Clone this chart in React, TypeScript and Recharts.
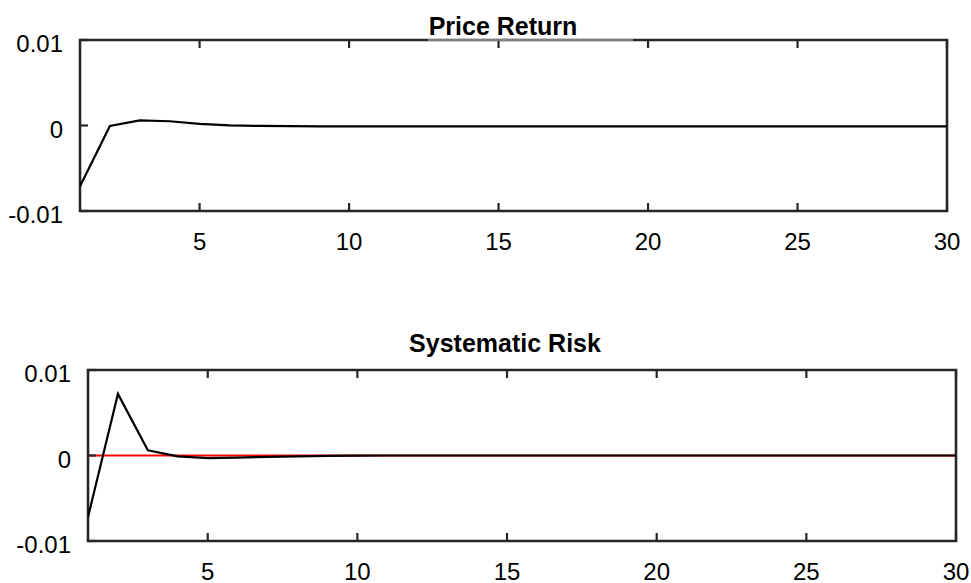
import { LineChart, Line, XAxis, YAxis, ReferenceLine, ReferenceArea } from 'recharts';

// impulse responses, periods 1..30
const periods = [1, 2, 3, 4, 5, 6, 7, 8, 9, 10, 11, 12, 13, 14, 15, 16, 17, 18, 19, 20, 21, 22, 23, 24, 25, 26, 27, 28, 29, 30];

const priceReturn = [
  -0.0071, -0.00005, 0.0006, 0.0005, 0.0002, 0.00002, -0.00005, -0.00008, -0.0001, -0.0001,
  -0.0001, -0.0001, -0.0001, -0.0001, -0.0001, -0.0001, -0.0001, -0.0001, -0.0001, -0.0001,
  -0.0001, -0.0001, -0.0001, -0.0001, -0.0001, -0.0001, -0.0001, -0.0001, -0.0001, -0.0001,
];

const systematicRisk = [
  -0.0072, 0.0072, 0.0006, -0.0001, -0.0003, -0.00025, -0.00015, -0.0001, -0.00005, -0.00002,
  0, 0, 0, 0, 0, 0, 0, 0, 0, 0,
  0, 0, 0, 0, 0, 0, 0, 0, 0, 0,
];

const xTicks = [5, 10, 15, 20, 25, 30];
const yTicks = [-0.01, 0, 0.01];

const priceData = periods.map((p, i) => ({ period: p, value: priceReturn[i] }));
const riskData = periods.map((p, i) => ({ period: p, value: systematicRisk[i] }));

const FONT = '"Liberation Sans", Arial, sans-serif';
const AXIS = '#262626';
const TICK = 8;

const fmtY = (v: number) => (v === 0 ? '0' : v.toFixed(2));

// MATLAB-style inward ticks: draw the tick line and the label ourselves
const BottomTick = (props: any) => {
  const { x, y, payload } = props;
  return (
    <g>
      <line x1={x} x2={x} y1={y} y2={y - TICK} stroke={AXIS} strokeWidth={2.2} />
      <text x={x} y={y + 39} textAnchor="middle" fontSize={24} fontFamily={FONT} fill="#000">{payload.value}</text>
    </g>
  );
};

const TopTick = (props: any) => {
  const { x, y } = props;
  return <line x1={x} x2={x} y1={y} y2={y + TICK} stroke={AXIS} strokeWidth={2.2} />;
};

const LeftTick = (props: any) => {
  const { x, y, payload } = props;
  return (
    <g>
      <line x1={x} x2={x + TICK} y1={y} y2={y} stroke={AXIS} strokeWidth={2.2} />
      <text x={x - 17} y={y + 12} textAnchor="end" fontSize={24} fontFamily={FONT} fill="#000">{fmtY(payload.value)}</text>
    </g>
  );
};

const RightTick = (props: any) => {
  const { x, y } = props;
  return <line x1={x} x2={x - TICK} y1={y} y2={y} stroke={AXIS} strokeWidth={2.2} />;
};

function Panel({ data, leftWidth, rightWidth, zeroLine }: { data: any[]; leftWidth: number; rightWidth: number; zeroLine?: boolean }) {
  return (
    <LineChart width={971} height={270} data={data} margin={{ top: 10, right: 0, left: 0, bottom: 0 }} style={{ overflow: 'visible' }}>
      <XAxis
        dataKey="period"
        type="number"
        domain={[1, 30]}
        ticks={xTicks}
        allowDataOverflow
        height={59}
        axisLine={false}
        tickLine={false}
        tickSize={0}
        tickMargin={0}
        tick={<BottomTick />}
      />
      <XAxis
        xAxisId="top"
        orientation="top"
        dataKey="period"
        type="number"
        domain={[1, 30]}
        ticks={xTicks}
        height={30}
        axisLine={false}
        tickLine={false}
        tickSize={0}
        tickMargin={0}
        tick={<TopTick />}
      />
      <YAxis
        type="number"
        domain={[-0.01, 0.01]}
        ticks={yTicks}
        width={leftWidth}
        axisLine={false}
        tickLine={false}
        tickSize={0}
        tickMargin={0}
        tick={<LeftTick />}
      />
      <YAxis
        yAxisId="right"
        orientation="right"
        type="number"
        domain={[-0.01, 0.01]}
        ticks={yTicks}
        width={rightWidth}
        axisLine={false}
        tickLine={false}
        tickSize={0}
        tickMargin={0}
        tick={<RightTick />}
      />
      <ReferenceArea x1={1} x2={30} y1={-0.01} y2={0.01} fill="none" fillOpacity={0} stroke={AXIS} strokeWidth={2.6} />
      {zeroLine && <ReferenceLine y={0} stroke="#ff0000" strokeWidth={2} />}
      <Line type="linear" dataKey="value" stroke="#000" strokeWidth={2.2} dot={false} isAnimationActive={false} />
    </LineChart>
  );
}

export default function App() {
  return (
    <div style={{ position: 'absolute', left: 0, top: 0, width: 971, height: 583, background: '#fff', fontFamily: FONT, overflow: 'hidden' }}>
      <div style={{ position: 'absolute', left: 0, top: 0 }}>
        <Panel data={priceData} leftWidth={80} rightWidth={24} />
      </div>
      <div style={{ position: 'absolute', left: 0, top: 330 }}>
        <Panel data={riskData} leftWidth={88} rightWidth={15} zeroLine />
      </div>
      <svg width={971} height={583} style={{ position: 'absolute', left: 0, top: 0, pointerEvents: 'none' }}>
        <line x1={428} x2={633} y1={40} y2={40} stroke="#7f7f7f" strokeWidth={2} />
        <text x={503} y={35} textAnchor="middle" fontSize={25} fontWeight="bold" fontFamily={FONT}>Price Return</text>
        <text x={505} y={352} textAnchor="middle" fontSize={25} fontWeight="bold" fontFamily={FONT}>Systematic Risk</text>
      </svg>
    </div>
  );
}
